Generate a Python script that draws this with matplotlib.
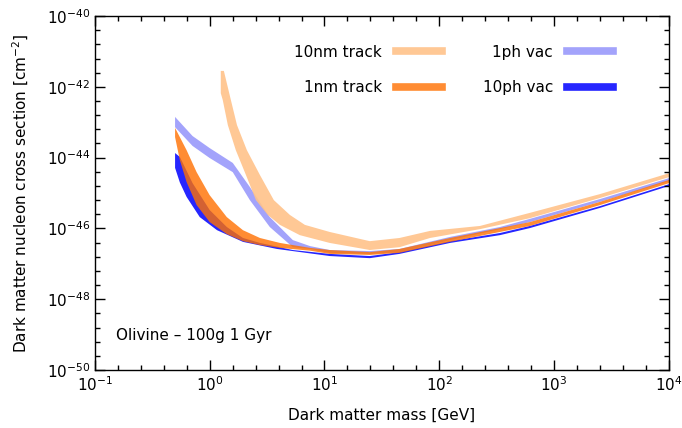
import numpy as np
import matplotlib
matplotlib.use("Agg")
import matplotlib.pyplot as plt
from matplotlib.lines import Line2D
from matplotlib.ticker import FixedLocator, FuncFormatter, LogLocator

# ---- data (mass in GeV, cross section as log10 exponent) ----
# each band: upper edge and lower edge
nm10_up_m = [1.25, 1.33, 1.53, 1.73, 2.11, 2.74, 3.62, 5.0, 6.75, 11.1, 24.8, 45, 83, 226, 615, 2506, 10000]
nm10_up_s = [-41.55, -41.55, -42.37, -43.08, -43.79, -44.49, -45.20, -45.62, -45.90, -46.10, -46.36, -46.27, -46.07, -45.93, -45.56, -45.03, -44.44]
nm10_lo_m = [1.25, 1.30, 1.44, 1.69, 2.07, 2.53, 3.21, 4.09, 6.1, 11.1, 24.8, 45, 83, 226, 615, 2506, 10000]
nm10_lo_s = [-42.18, -42.37, -43.08, -43.79, -44.49, -45.20, -45.62, -45.90, -46.19, -46.41, -46.61, -46.53, -46.27, -46.02, -45.71, -45.14, -44.55]

nm1_up_m = [0.5, 0.63, 0.77, 1.0, 1.41, 1.95, 2.74, 4.09, 7.5, 11.1, 24.8, 45, 124, 337, 615, 2506, 10000]
nm1_up_s = [-43.16, -43.79, -44.41, -45.06, -45.68, -46.05, -46.27, -46.41, -46.55, -46.61, -46.67, -46.58, -46.27, -45.99, -45.82, -45.25, -44.63]
nm1_lo_m = [0.5, 0.55, 0.63, 0.77, 1.0, 1.41, 1.95, 2.74, 4.09, 7.5, 11.1, 24.8, 45, 124, 337, 615, 2506, 10000]
nm1_lo_s = [-43.42, -44.07, -44.69, -45.34, -45.82, -46.16, -46.36, -46.47, -46.55, -46.63, -46.72, -46.75, -46.69, -46.38, -46.10, -45.93, -45.34, -44.72]

ph1_up_m = [0.5, 0.71, 1.0, 1.59, 2.24, 3.34, 5.3, 7.5, 11.1, 24.8, 45, 124, 337, 615, 2506, 10000]
ph1_up_s = [-42.85, -43.39, -43.73, -44.15, -44.83, -45.68, -46.33, -46.50, -46.61, -46.64, -46.58, -46.24, -45.96, -45.73, -45.17, -44.58]
ph1_lo_m = [0.5, 0.71, 1.0, 1.59, 2.24, 3.34, 5.3, 7.5, 11.1, 24.8, 45, 124, 337, 615, 2506, 10000]
ph1_lo_s = [-43.14, -43.67, -44.01, -44.41, -45.20, -45.96, -46.53, -46.58, -46.69, -46.72, -46.67, -46.33, -46.02, -45.82, -45.25, -44.66]

ph10_up_m = [0.5, 0.55, 0.71, 1.0, 1.41, 1.95, 2.74, 5.3, 11.1, 24.8, 45, 124, 337, 615, 2506, 10000]
ph10_up_s = [-43.87, -43.98, -44.72, -45.48, -45.96, -46.27, -46.41, -46.61, -46.72, -46.78, -46.67, -46.36, -46.13, -45.93, -45.37, -44.75]
ph10_lo_m = [0.5, 0.55, 0.63, 0.82, 1.16, 1.95, 3.85, 11.1, 24.8, 45, 124, 337, 615, 2506, 10000]
ph10_lo_s = [-44.29, -44.70, -45.11, -45.68, -46.05, -46.38, -46.58, -46.78, -46.84, -46.72, -46.41, -46.19, -45.99, -45.42, -44.80]

labels = ["10nm track", "1nm track", "1ph vac", "10ph vac"]
colors = ["#ffc28a", "#ff7000", "#8c8cfa", "#0000ff"]
alphas = [0.9, 0.8, 0.8, 0.85]


def band(ax, up_m, up_s, lo_m, lo_s, color, alpha):
    xs = np.concatenate([up_m, lo_m[::-1]])
    ys = 10.0 ** np.concatenate([up_s, lo_s[::-1]])
    ax.fill(xs, ys, color=color, alpha=alpha, lw=0)


fig = plt.figure(figsize=(6.82, 4.28), dpi=100)
ax = fig.add_axes([0.139, 0.1355, 0.842, 0.827])
ax.set_xscale("log")
ax.set_yscale("log")

band(ax, ph10_up_m, ph10_up_s, ph10_lo_m, ph10_lo_s, colors[3], alphas[3])
band(ax, ph1_up_m, ph1_up_s, ph1_lo_m, ph1_lo_s, colors[2], alphas[2])
band(ax, nm1_up_m, nm1_up_s, nm1_lo_m, nm1_lo_s, colors[1], alphas[1])
band(ax, nm10_up_m, nm10_up_s, nm10_lo_m, nm10_lo_s, colors[0], alphas[0])

ax.set_xlim(1e-1, 1e4)
ax.set_ylim(1e-50, 1e-40)

ax.xaxis.set_major_locator(LogLocator(base=10))
ax.xaxis.set_minor_locator(FixedLocator(10.0 ** np.arange(-1, 4.01, 0.2)))
ax.yaxis.set_major_locator(FixedLocator(10.0 ** np.arange(-50, -39, 2)))
ax.yaxis.set_minor_locator(FixedLocator(10.0 ** np.arange(-50, -39.9, 0.4)))
fmt = FuncFormatter(lambda v, _: r"$10^{%d}$" % int(round(np.log10(v))))
ax.xaxis.set_major_formatter(fmt)
ax.yaxis.set_major_formatter(fmt)
ax.xaxis.set_minor_formatter(FuncFormatter(lambda v, _: ""))
ax.yaxis.set_minor_formatter(FuncFormatter(lambda v, _: ""))

ax.tick_params(which="both", direction="in", top=True, right=True, labelsize=11)
ax.tick_params(which="major", length=7, width=1)
ax.tick_params(which="minor", length=3.5, width=1)
for sp in ax.spines.values():
    sp.set_linewidth(1)

ax.set_xlabel("Dark matter mass [GeV]", fontsize=11, labelpad=10)
ax.set_ylabel(r"Dark matter nucleon cross section [cm$^{-2}$]", fontsize=11, labelpad=11)

ax.text(0.037, 0.098, "Olivine – 100g 1 Gyr", transform=ax.transAxes, fontsize=11, va="center")

handles = [Line2D([], [], color=c, lw=5.5, alpha=a) for c, a in zip(colors, alphas)]
ax.legend(handles, labels, loc="upper right", bbox_to_anchor=(0.902, 0.919), ncol=2,
          frameon=False, markerfirst=False, fontsize=11, handlelength=3.0,
          handletextpad=0.9, columnspacing=2.7, labelspacing=1.35, borderpad=0, borderaxespad=0)

fig.savefig("out.png", dpi=100)
